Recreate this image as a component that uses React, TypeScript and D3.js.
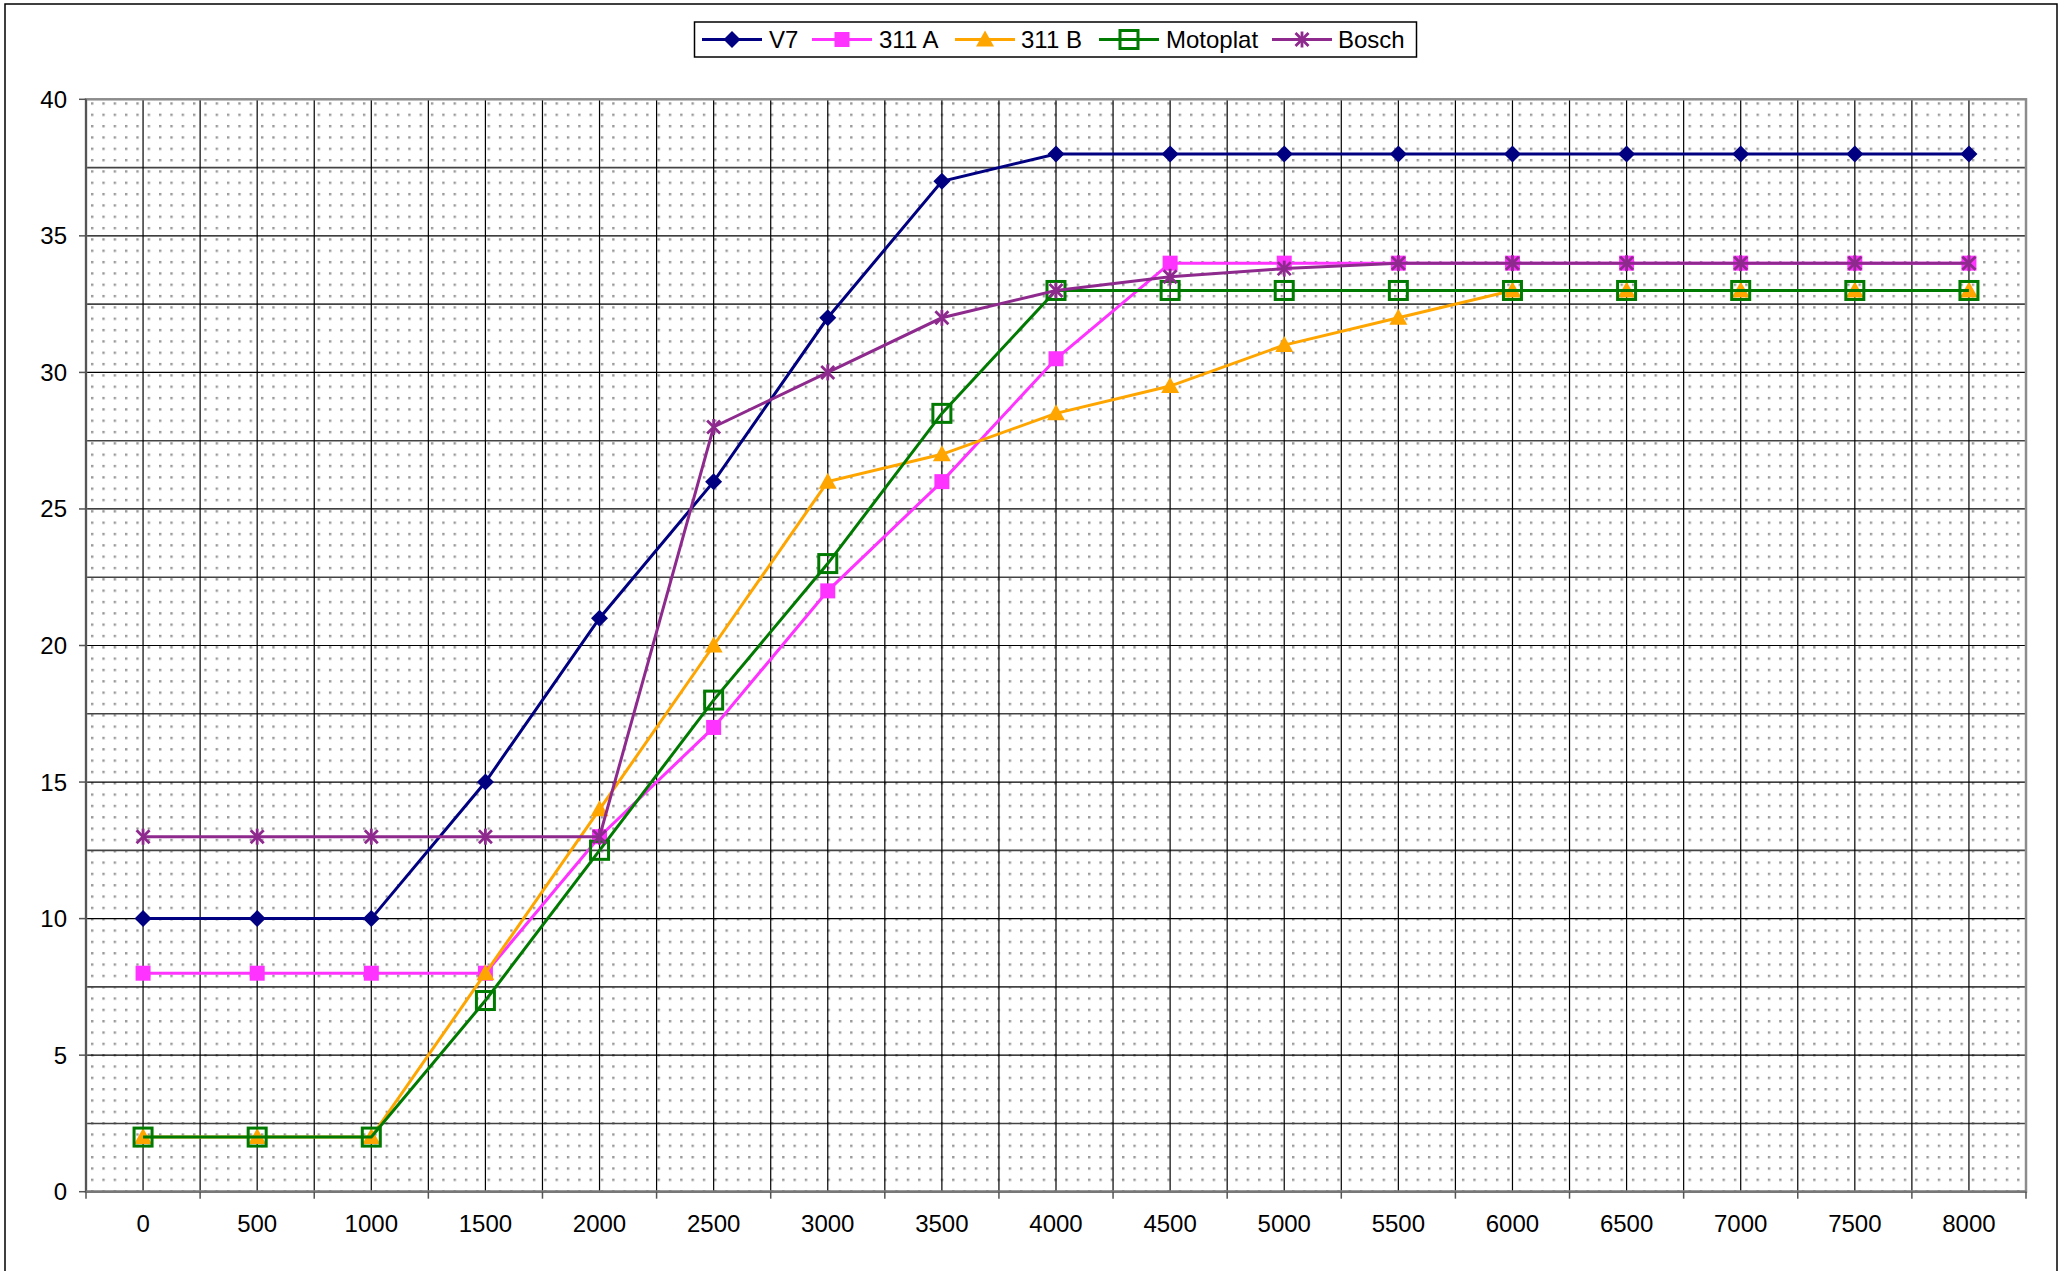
import * as d3 from "d3";

// rpm categories on the x axis
const rpm = ["0", "500", "1000", "1500", "2000", "2500", "3000", "3500", "4000", "4500", "5000", "5500", "6000", "6500", "7000", "7500", "8000"];
const yTicks = [0, 5, 10, 15, 20, 25, 30, 35, 40];

const v7 = [10, 10, 10, 15, 21, 26, 32, 37, 38, 38, 38, 38, 38, 38, 38, 38, 38];
const a311 = [8, 8, 8, 8, 13, 17, 22, 26, 30.5, 34, 34, 34, 34, 34, 34, 34, 34];
const b311 = [2, 2, 2, 8, 14, 20, 26, 27, 28.5, 29.5, 31, 32, 33, 33, 33, 33, 33];
const motoplat = [2, 2, 2, 7, 12.5, 18, 23, 28.5, 33, 33, 33, 33, 33, 33, 33, 33, 33];
const bosch = [13, 13, 13, 13, 13, 28, 30, 32, 33, 33.5, 33.8, 34, 34, 34, 34, 34, 34];

const seriesNames = ["V7", "311 A", "311 B", "Motoplat", "Bosch"];
const seriesValues = [v7, a311, b311, motoplat, bosch];
const colors = ["#000080", "#FF33FF", "#FFA500", "#007A00", "#8E2A8E"];
const markers = ["diamond", "square", "triangle", "openSquare", "star"];

const W = 2065;
const H = 1271;
const left = 86;
const right = 2026;
const top = 99.3;
const bottom = 1191.7;
const font = "'Liberation Sans', Arial, sans-serif";

const Marker = ({ type, x, y, color }: { type: string; x: number; y: number; color: string }) => {
  if (type === "diamond")
    return <path d={`M${x},${y - 8.5}L${x + 8.5},${y}L${x},${y + 8.5}L${x - 8.5},${y}Z`} fill={color} />;
  if (type === "square") return <rect x={x - 7.5} y={y - 7.5} width={15} height={15} fill={color} />;
  if (type === "triangle")
    return <path d={`M${x},${y - 9}L${x + 9},${y + 7}L${x - 9},${y + 7}Z`} fill={color} />;
  if (type === "openSquare")
    return <rect x={x - 9} y={y - 9} width={18} height={18} fill="none" stroke={color} strokeWidth={3} />;
  // asterisk
  return (
    <g stroke={color} strokeWidth={2.8}>
      <line x1={x - 6.5} y1={y - 6.5} x2={x + 6.5} y2={y + 6.5} />
      <line x1={x - 6.5} y1={y + 6.5} x2={x + 6.5} y2={y - 6.5} />
      <line x1={x} y1={y - 8} x2={x} y2={y + 8} />
    </g>
  );
};

const App = () => {
  const x = d3.scaleBand().domain(rpm).range([left, right]).padding(0);
  const y = d3.scaleLinear().domain([0, 40]).range([bottom, top]);
  const bw = x.bandwidth();
  const cx = (c: string) => (x(c) as number) + bw / 2;

  const line = d3
    .line<number>()
    .x((_, i) => cx(rpm[i]))
    .y((d) => y(d));

  // vertical gridlines at band edges and centres
  const vLines: number[] = [];
  rpm.forEach((c) => {
    vLines.push(x(c) as number);
    vLines.push(cx(c));
  });
  const hLines = d3.range(2.5, 40, 2.5);

  // legend layout: line start and text start
  const legendItems = [
    { lx: 702, tx: 769 },
    { lx: 812, tx: 879 },
    { lx: 955, tx: 1021 },
    { lx: 1099, tx: 1166 },
    { lx: 1272, tx: 1338 },
  ];
  const legendLine = 60;

  return (
    <svg width={W} height={H} style={{ position: "absolute", left: 0, top: 0, background: "#fff" }}>
      <defs>
        <pattern id="dots" x={left + 5} y={top + 3} width={11.33} height={11.33} patternUnits="userSpaceOnUse">
          <rect x={0} y={0} width={2.4} height={2.4} fill="#999" />
        </pattern>
      </defs>
      <rect x={5} y={4} width={2052} height={1300} fill="#fff" stroke="#000" strokeWidth={1.5} />

      {/* plot area */}
      <rect x={left} y={top} width={right - left} height={bottom - top} fill="#fff" />
      <rect x={left} y={top} width={right - left} height={bottom - top} fill="url(#dots)" />

      {/* grid */}
      <g stroke="#000" strokeWidth={1.2}>
        {hLines.map((v) => (
          <line key={v} x1={left} x2={right} y1={y(v)} y2={y(v)} stroke={v % 5 === 0 ? "#000" : "#444"} strokeWidth={v % 5 === 0 ? 1.2 : 1.6} />
        ))}
        {vLines.slice(1).map((v, i) => (
          <line key={i} x1={v} x2={v} y1={top} y2={bottom} />
        ))}
      </g>
      <rect x={left} y={top} width={right - left} height={bottom - top} fill="none" stroke="#8c8c8c" strokeWidth={2.5} />
      <line x1={left} x2={left} y1={top} y2={bottom} stroke="#555" strokeWidth={2} />
      <line x1={left} x2={right} y1={bottom} y2={bottom} stroke="#777" strokeWidth={2.5} />

      {/* y axis */}
      <g fontFamily={font} fontSize={24} fill="#000">
        {yTicks.map((t) => (
          <g key={t}>
            <line x1={79} x2={left} y1={y(t)} y2={y(t)} stroke="#555" strokeWidth={1.5} />
            <text x={67} y={y(t) + 8.5} textAnchor="end">
              {t}
            </text>
          </g>
        ))}
      </g>

      {/* x axis */}
      <g fontFamily={font} fontSize={24} fill="#000">
        {rpm.map((c) => (
          <text key={c} x={cx(c)} y={1232} textAnchor="middle">
            {c}
          </text>
        ))}
        {[...rpm.map((c) => x(c) as number), right].map((v, i) => (
          <line key={i} x1={v} x2={v} y1={bottom} y2={bottom + 7} stroke="#555" strokeWidth={1.5} />
        ))}
      </g>

      {/* series */}
      {seriesValues.map((vals, s) => (
        <g key={seriesNames[s]}>
          <path d={line(vals) || ""} fill="none" stroke={colors[s]} strokeWidth={3} />
          {vals.map((v, i) => (
            <Marker key={i} type={markers[s]} x={cx(rpm[i])} y={y(v)} color={colors[s]} />
          ))}
        </g>
      ))}

      {/* legend */}
      <rect x={694.5} y={22} width={722} height={35} fill="#fff" stroke="#000" strokeWidth={1.5} />
      {seriesNames.map((n, s) => (
        <g key={n}>
          <line x1={legendItems[s].lx} x2={legendItems[s].lx + legendLine} y1={39.5} y2={39.5} stroke={colors[s]} strokeWidth={3} />
          <Marker type={markers[s]} x={legendItems[s].lx + legendLine / 2} y={39.5} color={colors[s]} />
          <text x={legendItems[s].tx} y={48} fontFamily={font} fontSize={24} fill="#000">
            {n}
          </text>
        </g>
      ))}
    </svg>
  );
};

export default App;
